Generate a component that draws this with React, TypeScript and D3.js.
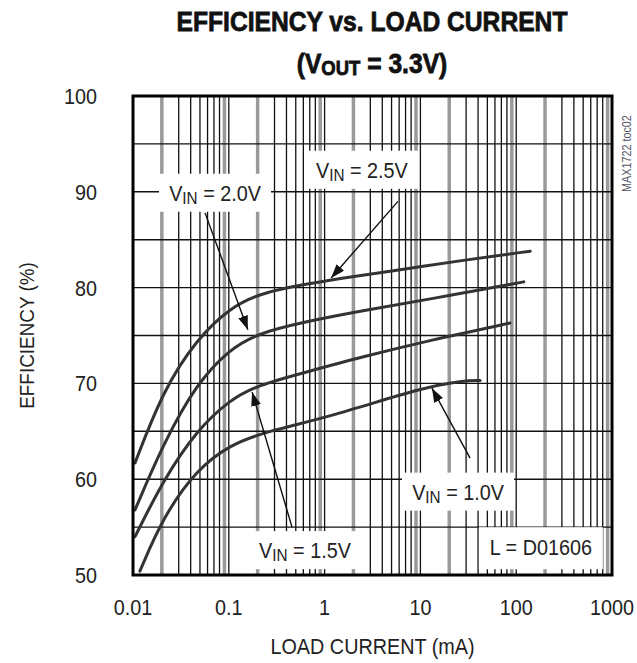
import * as d3 from 'd3';

// load current (mA), efficiency (%)
const vin25: [number, number][] = [
  [0.0105, 61.7], [0.0207, 69.3], [0.0462, 74.6], [0.103, 77.9], [0.229, 79.6],
  [1.14, 80.8], [5.6, 81.8], [30, 82.9], [140, 83.8],
];
const vin20: [number, number][] = [
  [0.0105, 56.8], [0.0207, 63.7], [0.0462, 70.0], [0.103, 73.6], [0.2, 75.2],
  [0.6, 76.4], [2.54, 77.6], [12.6, 78.8], [120, 80.6],
];
const vin15: [number, number][] = [
  [0.0105, 54.0], [0.0207, 59.9], [0.0462, 65.1], [0.103, 68.3], [0.2, 69.8],
  [0.6, 71.1], [2.54, 72.8], [12.6, 74.5], [86, 76.3],
];
const vin10: [number, number][] = [
  [0.0118, 50.4], [0.0207, 56.1], [0.0462, 61.0], [0.103, 63.6], [0.25, 65.0],
  [1.14, 66.5], [10.7, 69.6], [28, 70.3], [42, 70.3],
];
const series = [vin25, vin20, vin15, vin10];

const xTickLabels = ['0.01', '0.1', '1', '10', '100', '1000'];
const yTicks = [50, 60, 70, 80, 90, 100];
const yGrid = [55, 60, 65, 70, 75, 80, 85, 90, 95];

// callouts: label, label anchor (load, eff), arrow tail, arrow tip
const callouts = [
  { vin: '2.0V', at: [0.0718, 89.9], from: [0.0565, 87.8], to: [0.158, 75.6], w: 112 },
  { vin: '2.5V', at: [2.45, 92.3], from: [5.83, 89.0], to: [1.17, 81.0], w: 114 },
  { vin: '1.5V', at: [0.624, 52.6], from: [0.457, 55.0], to: [0.175, 69.1], w: 112 },
  { vin: '1.0V', at: [24.7, 58.7], from: [33, 62.2], to: [13.2, 69.5], w: 112 },
];
const inductor = { text: 'L = D01606', at: [181, 52.9], w: 124 };

const W = 637;
const H = 663;
const margin = { top: 96, right: 25, bottom: 88, left: 133 };
const FONT = "'Liberation Sans', Arial, sans-serif";
const SX = 0.9; // narrow face

function T(props: { x: number; y: number; size: number; anchor?: string; rotate?: number; fill?: string;
  weight?: string; sx?: number; stroke?: string; children: any }) {
  const { x, y, size, anchor = 'middle', rotate = 0, fill = '#222', weight = 'normal', sx = SX, stroke } = props;
  return (
    <text transform={`translate(${x},${y}) rotate(${rotate}) scale(${sx},1)`} textAnchor={anchor}
      fontFamily={FONT} fontSize={size} fontWeight={weight} fill={fill}
      stroke={stroke} strokeWidth={stroke ? 0.8 : undefined}>{props.children}</text>
  );
}

export default function App() {
  const x = d3.scaleLog().domain([0.01, 1000]).range([margin.left, W - margin.right]);
  const y = d3.scaleLinear().domain([50, 100]).range([H - margin.bottom, margin.top]);
  const line = d3.line<[number, number]>()
    .x(d => x(d[0]))
    .y(d => y(d[1]))
    .curve(d3.curveBasis);

  const minor = x.ticks();
  const [x0, x1] = x.range();
  const [y0, y1] = y.range();

  return (
    <svg width={W} height={H} style={{ position: 'absolute', left: 0, top: 0, background: '#fff' }}>
      <defs>
        <marker id="head" viewBox="0 0 14 10" refX="14" refY="5" markerWidth="14" markerHeight="10"
          markerUnits="userSpaceOnUse" orient="auto">
          <path d="M0,0 L14,5 L0,10 Z" fill="#111" />
        </marker>
      </defs>

      {/* title */}
      <T x={372} y={31} size={28} sx={0.88} weight="bold" fill="#111" stroke="#111">EFFICIENCY vs. LOAD CURRENT</T>
      <T x={372} y={73} size={28} sx={0.88} weight="bold" fill="#111" stroke="#111">
        (V<tspan fontSize={21} dy={2}>OUT</tspan><tspan dy={-2}> = 3.3V)</tspan>
      </T>

      {/* grid */}
      <g>
        {minor.map((t, i) => {
          const m = Math.round(t / Math.pow(10, Math.floor(Math.log10(t) + 1e-9)));
          const gray = m === 2 || m === 9;
          return (
            <line key={'v' + i} x1={x(t)} x2={x(t)} y1={y1} y2={y0}
              stroke={gray ? '#9a9a9a' : '#111'} strokeWidth={gray ? 3.5 : 1.3} />
          );
        })}
        {yGrid.map(v => (
          <line key={'h' + v} x1={x0} x2={x1} y1={y(v)} y2={y(v)} stroke="#111" strokeWidth={1.4} />
        ))}
      </g>

      {/* curves */}
      {series.map((s, i) => (
        <path key={i} d={line(s) ?? ''} fill="none" stroke="#333" strokeWidth={3} strokeLinecap="round" />
      ))}

      {/* callouts */}
      {callouts.map(c => {
        const cx = x(c.at[0]);
        const cy = y(c.at[1]);
        return (
          <g key={c.vin}>
            <rect x={cx - c.w / 2} y={cy - 19} width={c.w} height={38} fill="#fff" />
            <line x1={x(c.from[0])} y1={y(c.from[1])} x2={x(c.to[0])} y2={y(c.to[1])}
              stroke="#111" strokeWidth={1.4} markerEnd="url(#head)" />
            <T x={cx} y={cy + 8} size={22}>
              V<tspan fontSize={17} dy={3}>IN</tspan><tspan dy={-3}> = {c.vin}</tspan>
            </T>
          </g>
        );
      })}
      <rect x={x(inductor.at[0]) - inductor.w / 2} y={y(inductor.at[1]) - 20} width={inductor.w} height={42} fill="#fff" />
      <T x={x(inductor.at[0])} y={y(inductor.at[1]) + 8} size={22}>{inductor.text}</T>

      {/* frame */}
      <rect x={x0} y={y1} width={x1 - x0} height={y0 - y1} fill="none" stroke="#000" strokeWidth={3} />

      {/* axes labels */}
      {yTicks.map(v => (
        <T key={v} x={97} y={y(v) + 8} size={22} anchor="end">{v}</T>
      ))}
      {xTickLabels.map(t => (
        <T key={t} x={x(+t)} y={615} size={22}>{t}</T>
      ))}
      <T x={34} y={(y0 + y1) / 2} size={21} rotate={-90}>EFFICIENCY (%)</T>
      <T x={(x0 + x1) / 2} y={654} size={22}>LOAD CURRENT (mA)</T>
      <T x={631} y={192} size={12} rotate={-90} anchor="start" fill="#556">MAX1722 toc02</T>
    </svg>
  );
}
